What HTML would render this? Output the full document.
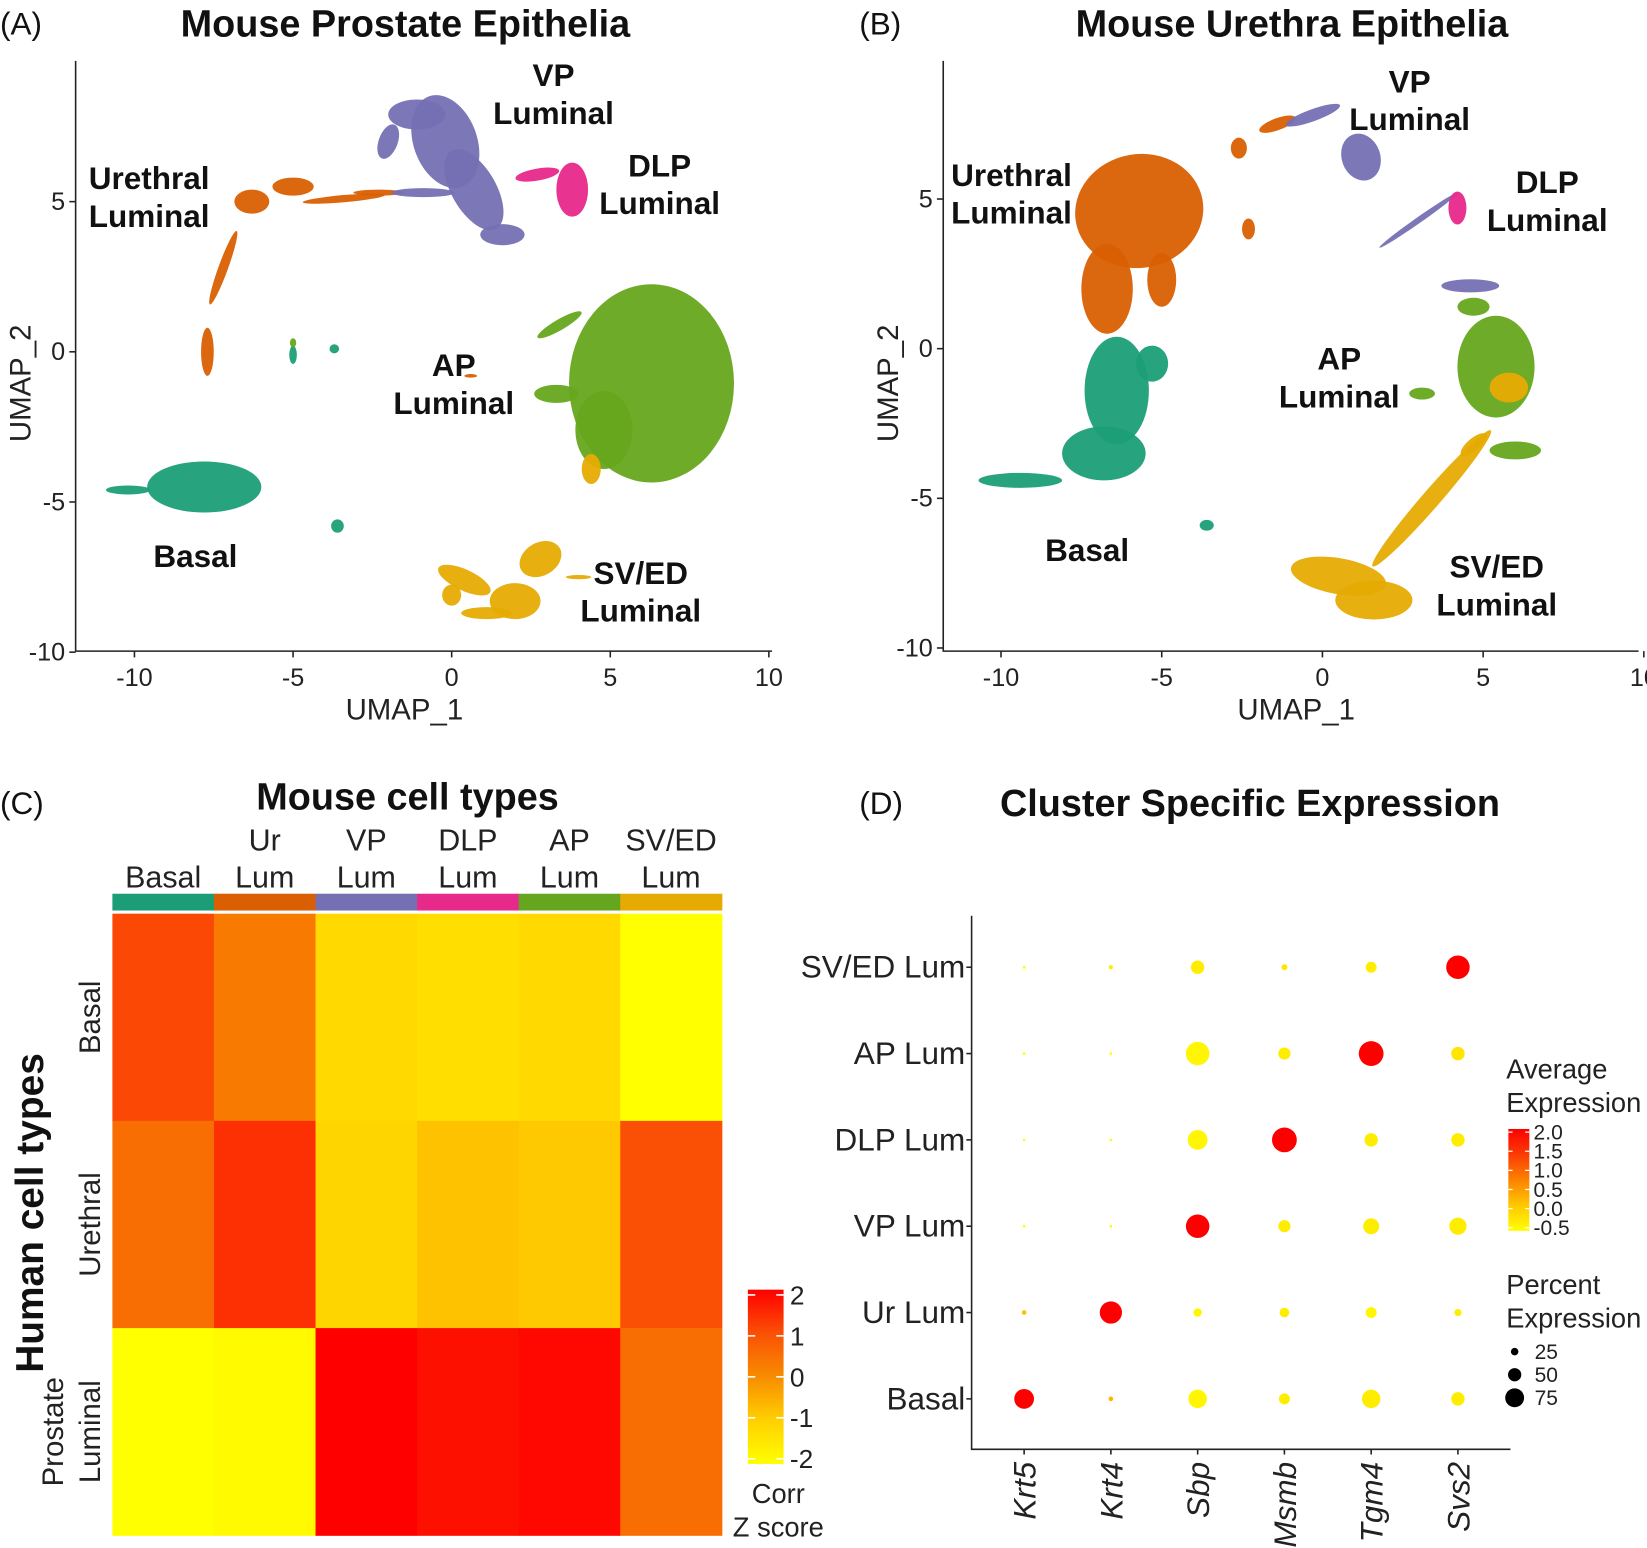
<!DOCTYPE html>
<html><head><meta charset="utf-8">
<style>
html,body{margin:0;padding:0;background:#fff;}
svg{display:block;font-family:"Liberation Sans",Arial,sans-serif;}
</style></head>
<body>
<svg id="fig" width="1647" height="1548" viewBox="0 0 1568 1474" preserveAspectRatio="none" xmlns="http://www.w3.org/2000/svg"></svg>
<script>
// ---------- DATA ----------
const clusterNames = ["Basal","Urethral","VP","DLP","AP","SVED"];
const clusterColors = ["#1b9e77","#d95f02","#7570b3","#e7298a","#66a61e","#e6ab02"];
// blobs: [clusterIndex, x, y, rx, ry, rotationDeg] in UMAP units
const blobsA = [
 [0,-7.8,-4.5,1.8,0.85,0],[0,-10.2,-4.6,0.7,0.15,0],[0,-3.6,-5.8,0.2,0.22,0],[0,-5.0,-0.1,0.12,0.3,0],[0,-3.7,0.1,0.15,0.15,0],
 [1,-6.3,5.0,0.55,0.4,0],[1,-5.0,5.5,0.65,0.3,0],[1,-3.4,5.1,1.3,0.12,-5],[1,-7.7,0.0,0.2,0.8,0],[1,-2.3,5.3,0.8,0.1,0],[1,-7.2,2.8,0.15,1.3,20],[1,0.6,-0.8,0.2,0.06,0],
 [2,-0.2,7.0,1.0,1.6,-20],[2,0.7,5.4,0.7,1.5,-30],[2,-1.1,7.9,0.9,0.5,0],[2,1.6,3.9,0.7,0.35,0],[2,-0.9,5.3,1.0,0.15,0],[2,-2.0,7.0,0.3,0.6,20],
 [3,3.8,5.4,0.5,0.9,0],[3,2.7,5.9,0.7,0.2,-10],
 [4,6.3,-1.05,2.6,3.3,0],[4,3.4,0.9,0.8,0.18,-30],[4,3.3,-1.4,0.7,0.3,0],[4,4.8,-2.6,0.9,1.3,0],[4,-5.0,0.3,0.1,0.15,0],
 [5,0.4,-7.6,0.9,0.35,25],[5,2.0,-8.3,0.8,0.6,0],[5,2.8,-6.9,0.7,0.55,-30],[5,1.1,-8.7,0.8,0.2,0],[5,4.4,-3.9,0.3,0.5,0],[5,0.0,-8.1,0.3,0.35,0],[5,4.0,-7.5,0.4,0.07,0]
];
const blobsB = [
 [1,-5.7,4.6,2.0,1.9,-10],[1,-6.7,2.0,0.8,1.5,0],[1,-5.0,2.3,0.45,0.9,0],[1,-2.3,4.0,0.2,0.35,0],[1,-2.6,6.7,0.25,0.35,0],[1,-1.4,7.5,0.6,0.2,-20],
 [0,-6.4,-1.4,1.0,1.8,0],[0,-6.8,-3.5,1.3,0.9,0],[0,-9.4,-4.4,1.3,0.25,0],[0,-3.6,-5.9,0.22,0.18,0],[0,-5.3,-0.5,0.5,0.6,0],
 [2,1.2,6.4,0.6,0.8,-20],[2,-0.3,7.8,0.9,0.2,-20],[2,3.0,4.3,1.5,0.1,-35],[2,4.6,2.1,0.9,0.22,0],
 [3,4.2,4.7,0.28,0.55,0],
 [4,5.4,-0.6,1.2,1.7,0],[4,3.1,-1.5,0.4,0.2,0],[4,6.0,-3.4,0.8,0.3,0],[4,4.7,1.4,0.5,0.3,0],
 [5,3.4,-5.0,2.8,0.3,-49],[5,0.5,-7.6,1.5,0.6,10],[5,1.6,-8.4,1.2,0.65,0],[5,5.8,-1.3,0.6,0.5,0],[5,4.7,-3.2,0.5,0.2,-40]
];
// heatmap
const heatCols = [["Basal"],["Ur","Lum"],["VP","Lum"],["DLP","Lum"],["AP","Lum"],["SV/ED","Lum"]];
const heatRows = [["Basal"],["Urethral"],["Prostate","Luminal"]];
const heatZ = [
 [1.1, 0.3, -1.2, -1.3, -1.2, -2.0],
 [0.5, 1.4, -1.1, -0.8, -0.9, 1.0],
 [-2.0,-1.9, 2.0, 1.8, 1.9, 0.5]
];
const heatTicks = [2,1,0,-1,-2];
// dot plot
const dotGenes = ["Krt5","Krt4","Sbp","Msmb","Tgm4","Svs2"];
const dotRows = ["SV/ED Lum","AP Lum","DLP Lum","VP Lum","Ur Lum","Basal"];
const dotPct = [
 [3,8,45,15,35,85],
 [2,2,85,40,90,45],
 [2,2,70,90,45,45],
 [2,2,85,40,55,60],
 [10,80,25,30,35,20],
 [70,10,65,35,65,45]
];
const dotExp = [
 [-0.5,-0.3,-0.3,-0.2,-0.3,2.0],
 [-0.5,-0.5,-0.4,-0.3,2.0,-0.2],
 [-0.5,-0.5,-0.4,2.0,-0.3,-0.3],
 [-0.5,-0.5,2.0,-0.3,-0.3,-0.3],
 [0.2,2.0,-0.4,-0.3,-0.4,-0.3],
 [2.0,0.3,-0.4,-0.3,-0.3,-0.3]
];
const expTicks = ["2.0","1.5","1.0","0.5","0.0","-0.5"];
const pctTicks = [25,50,75];
const umapTicksX = [-10,-5,0,5,10];
const umapTicksY = [5,0,-5,-10];

// ---------- HELPERS ----------
const NS="http://www.w3.org/2000/svg";
const svg=document.getElementById('fig');
function mk(tag,attrs,parent){const e=document.createElementNS(NS,tag);for(const k in attrs)e.setAttribute(k,attrs[k]);(parent||svg).appendChild(e);return e;}
function txt(s,x,y,size,opts,parent){opts=opts||{};const e=mk('text',{x:x,y:y,'font-size':size,'text-anchor':opts.anchor||'middle','font-weight':opts.bold?'bold':'normal','fill':opts.fill||'#111'},parent);if(opts.italic)e.setAttribute('font-style','italic');if(opts.rot!==undefined)e.setAttribute('transform','rotate('+opts.rot+' '+x+' '+y+')');e.textContent=s;return e;}
function lerpColor(stops,t){t=Math.max(0,Math.min(1,t));const n=stops.length-1;const i=Math.min(n-1,Math.floor(t*n));const f=t*n-i;const a=stops[i],b=stops[i+1];return 'rgb('+a.map((v,k)=>Math.round(v+(b[k]-v)*f)).join(',')+')';}
const heatStops=[[255,255,0],[255,208,0],[248,140,0],[250,80,5],[255,0,0]];
const expStops=[[255,255,0],[255,200,0],[252,130,0],[250,60,5],[255,0,0]];

// ---------- UMAP PANELS ----------
function umap(p){
 const g=mk('g',{});
 
 
 const sx=v=>p.x0+v*p.kx, sy=v=>p.y0-v*p.ky;
 const t1=txt(p.letter,p.letterX,33,30,{anchor:'start'},g);
 
 
 const t2=txt(p.title,p.titleX,35,36,{bold:true},g);
 
 
 const pts=mk('g',{},g);
 
 
 p.blobs.forEach(b=>{
  const cx=sx(b[1]),cy=sy(b[2]);
  const e=mk('ellipse',{cx:cx,cy:cy,rx:b[3]*p.kx,ry:b[4]*p.ky,fill:clusterColors[b[0]],opacity:0.95,transform:'rotate('+b[5]+' '+cx+' '+cy+')'},pts);
  
  
 });
 const ax=mk('path',{d:'M'+p.axL+' 58 V'+p.axB+' H'+p.axR,stroke:'#222','stroke-width':1.5,fill:'none'},g);
 
 
 umapTicksX.forEach(v=>{
  const l=mk('line',{x1:sx(v),x2:sx(v),y1:p.axB,y2:p.axB+6,stroke:'#222','stroke-width':1.5},g);
  
  
  const t=txt(String(v),sx(v),p.axB+33,24,{fill:'#222'},g);
  
  
 });
 umapTicksY.forEach(v=>{
  const l=mk('line',{x1:p.axL-6,x2:p.axL,y1:sy(v),y2:sy(v),stroke:'#222','stroke-width':1.5},g);
  
  
  const t=txt(String(v),p.axL-10,sy(v)+8,24,{anchor:'end',fill:'#222'},g);
  
  
 });
 const xt=txt('UMAP_1',p.xTitleX,685,28,{fill:'#222'},g);
 
 
 const yt=txt('UMAP_2',p.axL-43,365,28,{fill:'#222',rot:-90},g);
 
 
 p.labels.forEach(L=>{
  L[0].forEach((s,i)=>{
   const t=txt(s,L[1],L[2]+i*36,30,{bold:true},g);
   
   
  });
 });
}
umap({id:'a',letter:'(A)',letterX:0,title:'Mouse Prostate Epithelia',titleX:386,x0:430,kx:30.2,y0:335,ky:28.6,axL:72,axB:620,axR:735,xTitleX:385,blobs:blobsA,
 labels:[[['VP','Luminal'],527,82],[['Urethral','Luminal'],142,180],[['DLP','Luminal'],628,168],[['AP','Luminal'],432,358],[['Basal'],186,540],[['SV/ED','Luminal'],610,556]]});
umap({id:'b',letter:'(B)',letterX:818,title:'Mouse Urethra Epithelia',titleX:1230,x0:1259,kx:30.6,y0:332,ky:28.5,axL:898,axB:620,axR:1560,xTitleX:1234,blobs:blobsB,
 labels:[[['VP','Luminal'],1342,88],[['Urethral','Luminal'],963,177],[['DLP','Luminal'],1473,184],[['AP','Luminal'],1275,352],[['Basal'],1035,534],[['SV/ED','Luminal'],1425,550]]});

// ---------- HEATMAP ----------
(function(){
 const g=mk('g',{});
 
 
 const L=107,T=870,cw=96.7,rh=197.3;
 const a=txt('(C)',0,775,30,{anchor:'start'},g);
 
 
 const b=txt('Mouse cell types',388,771,36,{bold:true},g);
 
 
 heatCols.forEach((c,j)=>{
  const cx=L+cw*(j+0.5);
  c.forEach((s,i)=>{
   const t=txt(s,cx,845-(c.length-1-i)*35,29,{fill:'#222'},g);
   
   
  });
  const r=mk('rect',{x:L+cw*j,y:851,width:cw+0.5,height:16,fill:clusterColors[j]},g);
  
  
 });
 heatZ.forEach((row,i)=>{
  row.forEach((z,j)=>{
   const r=mk('rect',{x:L+cw*j,y:T+rh*i,width:cw+0.5,height:rh+0.5,fill:lerpColor(heatStops,(z+2)/4)},g);
   
   
  });
  const lines=heatRows[i];const cy=T+rh*(i+0.5);
  lines.forEach((s,k)=>{
   const x=95-(lines.length-1-k)*35;
   const t=txt(s,x,cy,28,{fill:'#222',rot:-90},g);
   
   
  });
 });
 const yt=txt('Human cell types',41,1155,37,{bold:true,rot:-90},g);
 
 
 const defs=mk('defs',{},g);
 const lg=mk('linearGradient',{id:'zg',x1:0,y1:1,x2:0,y2:0},defs);
 heatStops.forEach((s,i)=>{mk('stop',{offset:i/(heatStops.length-1),'stop-color':'rgb('+s.join(',')+')'},lg);});
 const cbT=1228,cbB=1394;
 const cb=mk('rect',{x:712,y:cbT,width:34,height:cbB-cbT,fill:'url(#zg)'},g);
 
 
 heatTicks.forEach(v=>{
  const y=cbT+5+(2-v)/4*(cbB-cbT-10);
  const l=mk('line',{x1:712,x2:746,y1:y,y2:y,stroke:'#fff','stroke-width':1.5,'stroke-dasharray':'7 20'},g);
  
  
  const t=txt(String(v),752,y+9,25,{anchor:'start',fill:'#222'},g);
  
  
 });
 const c1=txt('Corr',741,1431,26,{fill:'#222'},g);
 
 
 const c2=txt('Z score',741,1463,26,{fill:'#222'},g);
 
 
})();

// ---------- DOT PLOT ----------
(function(){
 const g=mk('g',{});
 
 
 const a=txt('(D)',818,775,30,{anchor:'start'},g);
 
 
 const b=txt('Cluster Specific Expression',1190,777,36,{bold:true},g);
 
 
 const axL=925,axB=1380,axR=1438;
 const gx=j=>975+j*82.6, ry=i=>921+i*82.2;
 const rad=p=>1+p*0.12;
 const ax=mk('path',{d:'M'+axL+' 872 V'+axB+' H'+axR,stroke:'#222','stroke-width':1.5,fill:'none'},g);
 
 
 dotRows.forEach((r,i)=>{
  const l=mk('line',{x1:axL-5,x2:axL,y1:ry(i),y2:ry(i),stroke:'#222','stroke-width':1.5},g);
  
  
  const t=txt(r,axL-6,ry(i)+10,30,{anchor:'end',fill:'#222'},g);
  
  
  dotPct[i].forEach((p,j)=>{
   const c=mk('circle',{cx:gx(j),cy:ry(i),r:rad(p),fill:lerpColor(expStops,(dotExp[i][j]+0.5)/2.5)},g);
   
   
  });
 });
 dotGenes.forEach((s,j)=>{
  const l=mk('line',{x1:gx(j),x2:gx(j),y1:axB,y2:axB+5,stroke:'#222','stroke-width':1.5},g);
  
  
  const t=txt(s,gx(j)+11,axB+12,30,{anchor:'end',italic:true,fill:'#222',rot:-90},g);
  
  
 });
 const l1=txt('Average',1434,1027,26,{anchor:'start',fill:'#222'},g);
 
 
 const l2=txt('Expression',1434,1059,26,{anchor:'start',fill:'#222'},g);
 
 
 const defs=mk('defs',{},g);
 const lg=mk('linearGradient',{id:'eg',x1:0,y1:1,x2:0,y2:0},defs);
 expStops.forEach((s,i)=>{mk('stop',{offset:i/(expStops.length-1),'stop-color':'rgb('+s.join(',')+')'},lg);});
 const cb=mk('rect',{x:1436,y:1075,width:20,height:97,fill:'url(#eg)'},g);
 
 
 expTicks.forEach((s,i)=>{
  const y=1078+i*18.2;
  const tl=mk('line',{x1:1436,x2:1456,y1:y,y2:y,stroke:'#fff','stroke-width':1.2,'stroke-dasharray':'4 12'},g);
  
  
  const t=txt(s,1460,y+7,20,{anchor:'start',fill:'#222'},g);
  
  
 });
 const p1=txt('Percent',1434,1232,26,{anchor:'start',fill:'#222'},g);
 
 
 const p2=txt('Expression',1434,1264,26,{anchor:'start',fill:'#222'},g);
 
 
 pctTicks.forEach((v,i)=>{
  const y=1287+i*22;
  const c=mk('circle',{cx:1442,cy:y,r:rad(v)*0.9,fill:'#000'},g);
  
  
  const t=txt(String(v),1461,y+7,20,{anchor:'start',fill:'#222'},g);
  
  
 });
})();
</script>
</body></html>
